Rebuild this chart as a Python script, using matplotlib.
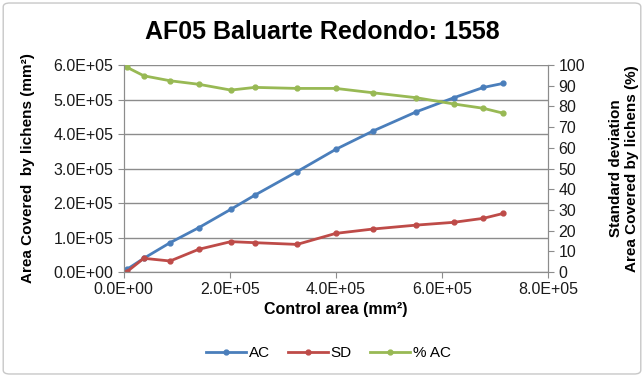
import matplotlib.pyplot as plt
from matplotlib.patches import FancyBboxPatch
from matplotlib.ticker import FuncFormatter

plt.rcParams['font.family'] = ['Liberation Sans', 'DejaVu Sans']

# data
control_area = [6.3e3, 3.8e4, 8.76e4, 1.415e5, 2.02e5, 2.476e5, 3.27e5,
                4.0e5, 4.70e5, 5.52e5, 6.22e5, 6.78e5, 7.16e5]
ac = [7.8e3, 3.97e4, 8.5e4, 1.284e5, 1.817e5, 2.23e5, 2.91e5,
      3.557e5, 4.087e5, 4.646e5, 5.05e5, 5.35e5, 5.47e5]
sd = [1.0e3, 3.97e4, 3.19e4, 6.58e4, 8.8e4, 8.5e4, 8.0e4,
      1.12e5, 1.246e5, 1.36e5, 1.44e5, 1.556e5, 1.70e5]
pct_ac = [98.9, 94.8, 92.4, 90.7, 87.9, 89.2, 88.7,
          88.7, 86.6, 84.2, 81.2, 79.1, 76.7]

blue = '#4A7EBB'
red = '#BE4B48'
green = '#98B954'

fig = plt.figure(figsize=(6.44, 3.77), dpi=100)
fig.patches.append(FancyBboxPatch((0.005, 0.008), 0.99, 0.984, boxstyle='round,pad=0,rounding_size=0.01',
                                  transform=fig.transFigure, fill=False, edgecolor='#c8c8c8', lw=1))
ax = fig.add_axes([0.192, 0.2785, 0.659, 0.549])
ax2 = ax.twinx()

l1, = ax.plot(control_area, ac, color=blue, lw=2, marker='o', ms=3.5, label='AC')
l2, = ax.plot(control_area, sd, color=red, lw=2, marker='o', ms=3.5, label='SD')
l3, = ax2.plot(control_area, pct_ac, color=green, lw=2, marker='o', ms=3.5, label='% AC')

sci = FuncFormatter(lambda v, p: f'{v/1e5:.1f}E+05' if v else '0.0E+00')
ax.set_xlim(0, 8e5)
ax.set_ylim(0, 6e5)
ax.set_xticks([0, 2e5, 4e5, 6e5, 8e5])
ax.set_yticks([i * 1e5 for i in range(7)])
ax.xaxis.set_major_formatter(sci)
ax.yaxis.set_major_formatter(sci)
ax2.set_ylim(0, 100)
ax2.set_yticks(range(0, 101, 10))

ax.grid(axis='y', color='#8c8c8c', lw=1)
ax.set_axisbelow(True)
for a in (ax, ax2):
    for s in a.spines.values():
        s.set_color('#8c8c8c')
    a.spines['top'].set_visible(False)
    a.tick_params(colors='#8c8c8c', labelcolor='#1a1a1a', labelsize=11.5, length=4)

fig.text(0.5, 0.915, 'AF05 Baluarte Redondo: 1558', ha='center', va='center',
         fontsize=18, fontweight='bold')
ax.set_xlabel('Control area (mm²)', fontsize=11.5, fontweight='bold', labelpad=3)
ax.set_ylabel('Area Covered  by lichens (mm²)', fontsize=11, fontweight='bold', labelpad=13)
ax2.set_ylabel('Standard deviation\nArea Covered by lichens (%)', fontsize=11,
               fontweight='bold', rotation=90, labelpad=17)

fig.legend(handles=[l1, l2, l3], loc='center', bbox_to_anchor=(0.51, 0.063), ncol=3,
           frameon=False, fontsize=11, handlelength=2.6, columnspacing=1.2,
           handletextpad=0.2)

fig.savefig('out.png', dpi=100)
